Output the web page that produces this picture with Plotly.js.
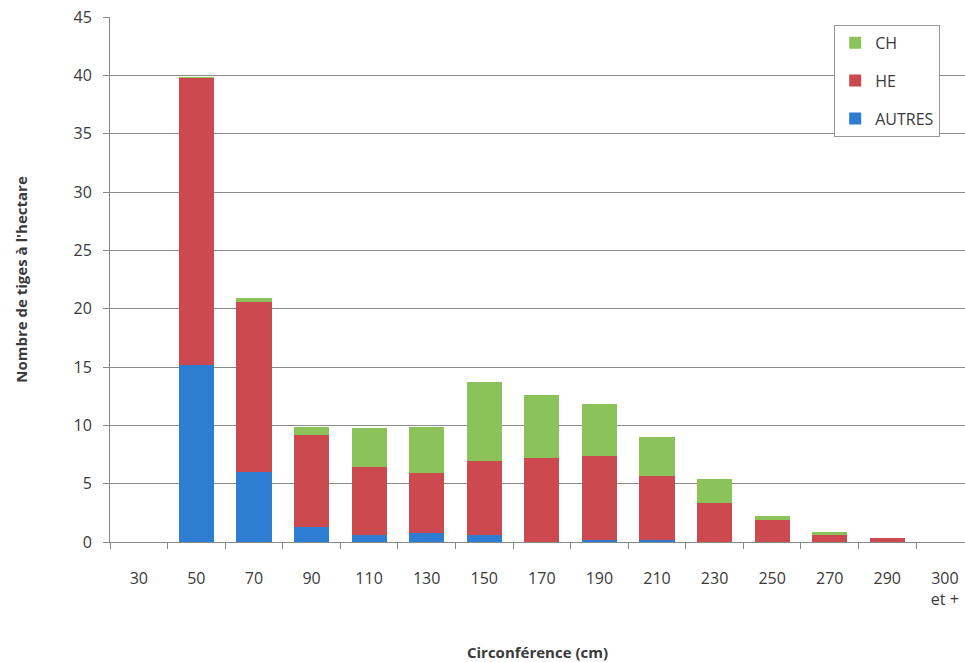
<!DOCTYPE html>
<html>
<head>
<meta charset="utf-8">
<script src="https://cdn.plot.ly/plotly-3.0.1.min.js"></script>
<style>html,body{margin:0;padding:0;background:#fff;}#chart{width:965px;height:662px;}</style>
</head>
<body>
<div id="chart"></div>
<script>
const categories = ["30","50","70","90","110","130","150","170","190","210","230","250","270","290","300<br>et +"];
const autres = [0, 15.2, 6.0, 1.3, 0.6, 0.75, 0.6, 0, 0.15, 0.15, 0, 0, 0, 0, 0];
const he     = [0, 24.6, 14.6, 7.9, 5.85, 5.15, 6.35, 7.2, 7.25, 5.5, 3.35, 1.9, 0.6, 0.35, 0];
const ch     = [0, 0.1, 0.35, 0.7, 3.35, 3.95, 6.8, 5.4, 4.4, 3.35, 2.05, 0.35, 0.3, 0, 0];
const yTicks = [0,5,10,15,20,25,30,35,40,45];

const font = "Open Sans, Noto Sans, sans-serif";
const traces = [
  {type:"bar", name:"AUTRES", legendgroup:"a", legendrank:3, x:categories, y:autres, marker:{color:"#2d7dd2"}},
  {type:"bar", name:"HE", legendgroup:"b", legendrank:2, x:categories, y:he, marker:{color:"#cc4a4f"}},
  {type:"bar", name:"CH", legendgroup:"c", legendrank:1, x:categories, y:ch, marker:{color:"#8cc25a"}}
];
const layout = {
  width:965, height:662,
  margin:{l:110, r:0, t:17, b:120},
  barmode:"stack", bargap:0.39,
  paper_bgcolor:"#fff", plot_bgcolor:"#fff",
  font:{family:font, size:16, color:"#3a3a3a"},
  showlegend:true,
  legend:{x:0.847, y:0.985, xanchor:"left", yanchor:"top", traceorder:"grouped",
          bordercolor:"#999", borderwidth:1, bgcolor:"#fff",
          font:{family:font, size:16, color:"#3a3a3a"}, tracegroupgap:14, itemwidth:20},
  xaxis:{type:"category", range:[-0.5,14.35], tickson:"boundaries", ticks:"outside", ticklen:6, tickcolor:"#888",
         showline:true, linecolor:"#888", linewidth:1, showgrid:false, ticklabelstandoff:22,
         tickfont:{family:font, size:16, color:"#3a3a3a"},
         title:{text:"<b>Circonférence (cm)</b>", standoff:38, font:{family:font, size:15, color:"#3a3a3a"}}},
  yaxis:{range:[0,45], tickvals:yTicks, ticks:"outside", ticklen:6, tickcolor:"#888",
         showline:true, linecolor:"#888", linewidth:1, showgrid:true, gridcolor:"#8a8a8a", gridwidth:1,
         zeroline:false, ticklabelstandoff:8,
         tickfont:{family:font, size:16, color:"#3a3a3a"},
         title:{text:"<b>Nombre de tiges à l'hectare</b>", standoff:42, font:{family:font, size:15, color:"#3a3a3a"}}}
};
Plotly.newPlot("chart", traces, layout, {displayModeBar:false, staticPlot:true});
</script>
</body>
</html>
